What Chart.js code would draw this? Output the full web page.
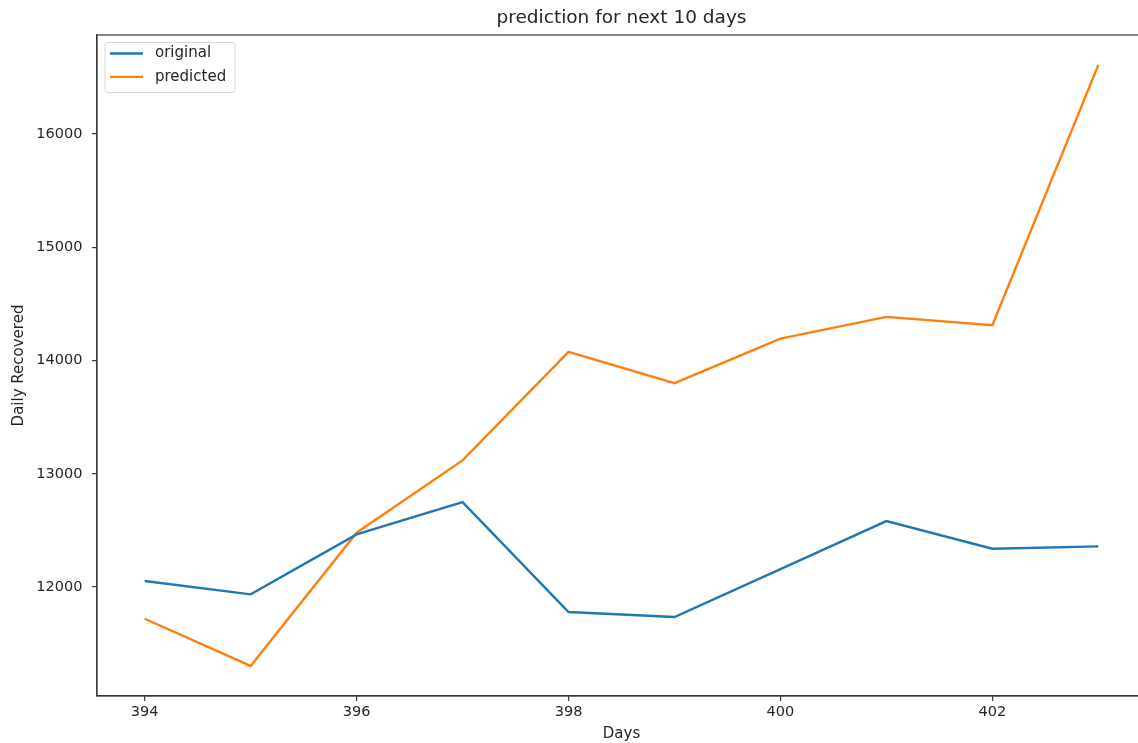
<!DOCTYPE html>
<html>
<head>
<meta charset="utf-8">
<script src="https://cdn.jsdelivr.net/npm/chart.js@4.4.1/dist/chart.umd.min.js"></script>
<style>
  html, body { margin: 0; padding: 0; overflow: hidden; background: #fff; }
  #wrap { position: absolute; left: 0; top: 0; width: 1150px; height: 743px; }
</style>
</head>
<body>
<div id="wrap"><canvas id="chart"></canvas></div>
<script>
// Days on the x axis
const days = [394, 395, 396, 397, 398, 399, 400, 401, 402, 403];
// Daily recovered counts
const original  = [12053, 11935, 12465, 12750, 11779, 11735, 12158, 12582, 12338, 12359];
const predicted = [11720, 11303, 12480, 13118, 14076, 13800, 14194, 14385, 14312, 16609];
// Tick labels
const xTicks = [394, 396, 398, 400, 402];
const yTicks = [12000, 13000, 14000, 15000, 16000];

const FONT = "'DejaVu Sans', 'Liberation Sans', sans-serif";
const INK = '#262626';
const SPINE = '#3a3a3a';

// axis limits with a 5% margin around the data
const allY = original.concat(predicted);
const yLo = Math.min(...allY), yHi = Math.max(...allY);
const xLo = Math.min(...days), xHi = Math.max(...days);
const yPad = (yHi - yLo) * 0.05, xPad = (xHi - xLo) * 0.05;

const toPoints = vals => vals.map((v, i) => ({ x: days[i], y: v }));

// box around the plot area plus the framed legend in its top-left corner
const frameAndLegend = {
  id: 'frameAndLegend',
  afterDraw(chart) {
    const ctx = chart.ctx, a = chart.chartArea;
    ctx.save();
    ctx.strokeStyle = SPINE;
    ctx.lineWidth = 1.2;
    ctx.strokeRect(a.left, a.top, a.right - a.left, a.bottom - a.top);

    const bx = a.left + 8, by = a.top + 7.5, bw = 130, bh = 50, r = 3;
    ctx.beginPath();
    ctx.moveTo(bx + r, by);
    ctx.arcTo(bx + bw, by, bx + bw, by + bh, r);
    ctx.arcTo(bx + bw, by + bh, bx, by + bh, r);
    ctx.arcTo(bx, by + bh, bx, by, r);
    ctx.arcTo(bx, by, bx + bw, by, r);
    ctx.closePath();
    ctx.fillStyle = 'rgba(255,255,255,0.8)';
    ctx.fill();
    ctx.strokeStyle = '#d6d6d6';
    ctx.lineWidth = 1;
    ctx.stroke();

    ctx.font = '15px ' + FONT;
    ctx.textBaseline = 'middle';
    ctx.textAlign = 'left';
    chart.data.datasets.forEach((ds, i) => {
      const y = by + 11 + i * 23.4;
      ctx.strokeStyle = ds.borderColor;
      ctx.lineWidth = ds.borderWidth;
      ctx.beginPath();
      ctx.moveTo(bx + 5, y);
      ctx.lineTo(bx + 38, y);
      ctx.stroke();
      ctx.fillStyle = INK;
      ctx.fillText(ds.label, bx + 50, y);
    });
    ctx.restore();
  }
};

new Chart(document.getElementById('chart'), {
  type: 'line',
  data: {
    datasets: [
      { label: 'original',  data: toPoints(original),  borderColor: '#1f77b4', borderWidth: 2.4 },
      { label: 'predicted', data: toPoints(predicted), borderColor: '#ff7f0e', borderWidth: 2.4 }
    ]
  },
  options: {
    responsive: true,
    maintainAspectRatio: false,
    animation: false,
    devicePixelRatio: 1,
    layout: { padding: { left: 0, right: 4, top: 0, bottom: 0 } },
    elements: { point: { radius: 0, hoverRadius: 0 }, line: { tension: 0, fill: false } },
    plugins: {
      legend: { display: false },
      tooltip: { enabled: false },
      title: {
        display: true,
        fullSize: false,
        text: 'prediction for next 10 days',
        color: INK,
        font: { family: FONT, size: 18.5, weight: 'normal', lineHeight: 1.2 },
        padding: { top: 7, bottom: 5.8 }
      }
    },
    scales: {
      x: {
        type: 'linear',
        min: xLo - xPad,
        max: xHi + xPad,
        afterFit: s => { s.height = 47; },
        afterBuildTicks: s => { s.ticks = xTicks.map(v => ({ value: v })); },
        ticks: { color: INK, font: { family: FONT, size: 14.5 }, padding: 3, maxRotation: 0,
                 callback: v => String(v) },
        grid: { drawOnChartArea: false, drawTicks: true, tickLength: 5, color: SPINE, lineWidth: 1.2 },
        border: { display: true, color: SPINE, width: 1.2 },
        title: { display: true, text: 'Days', color: INK,
                 font: { family: FONT, size: 15, lineHeight: 1.2 }, padding: { top: 0, bottom: 0 } }
      },
      y: {
        type: 'linear',
        min: yLo - yPad,
        max: yHi + yPad,
        afterFit: s => { s.width = 97; },
        afterBuildTicks: s => { s.ticks = yTicks.map(v => ({ value: v })); },
        ticks: { color: INK, font: { family: FONT, size: 14.5 }, padding: 9.5,
                 callback: v => String(v) },
        grid: { drawOnChartArea: false, drawTicks: true, tickLength: 5, color: SPINE, lineWidth: 1.2 },
        border: { display: true, color: SPINE, width: 1.2 },
        title: { display: true, text: 'Daily Recovered', color: INK,
                 font: { family: FONT, size: 15, lineHeight: 1.2 }, padding: { top: 10, bottom: 0 } }
      }
    }
  },
  plugins: [frameAndLegend]
});
</script>
</body>
</html>
